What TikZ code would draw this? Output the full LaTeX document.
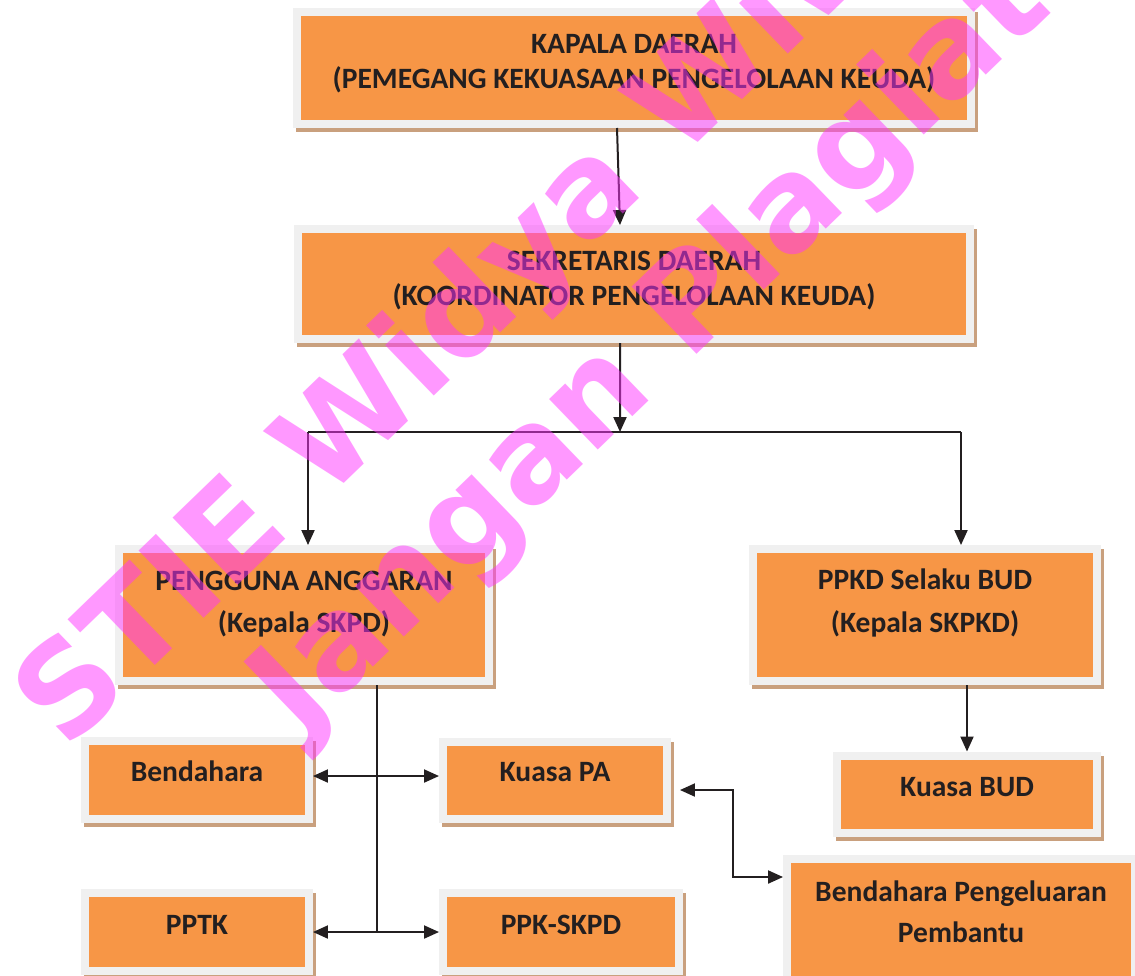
\documentclass[tikz,border=0pt]{standalone}
\usepackage{fontspec}
\setmainfont{Carlito}
\newfontfamily\markfont{DejaVu Sans}
\usetikzlibrary{arrows.meta,shadows}

\definecolor{boxorange}{HTML}{F79646}
\definecolor{boxframe}{HTML}{F0F0F0}
\definecolor{boxshade}{HTML}{C9A07E}
\definecolor{inkdark}{HTML}{231F20}
\definecolor{markpink}{rgb}{1,0.2,1}

\tikzset{
  orgbox/.style={draw=boxframe, line width=0.16cm, fill=boxorange, text=inkdark,
    font=\fontsize{16.8}{20}\selectfont\bfseries, align=center, inner sep=0pt,
    general shadow={fill=boxshade, draw=boxshade, line width=0.16cm,
      shadow xshift=0.06cm, shadow yshift=-0.08cm}},
  tallbox/.style={font=\fontsize{16.8}{24.2}\selectfont\bfseries},
  wire/.style={draw=inkdark, line width=0.04cm},
  link/.style={wire, -{Triangle[length=0.3cm,width=0.26cm]}},
  both/.style={wire, {Triangle[length=0.3cm,width=0.26cm]}-{Triangle[length=0.3cm,width=0.26cm]}},
  watermark/.style={font=\fontsize{73}{73}\selectfont\markfont\bfseries, text=markpink,
    text opacity=0.5, inner sep=0pt, rotate=44, anchor=base west}
}

\begin{document}
\begin{tikzpicture}[x=0.02cm, y=-0.02cm]
  \useasboundingbox (0,0) rectangle (1135,975);
  \clip (0,0) rectangle (1135,975);
  \fill[white] (0,0) rectangle (1135,975);

  % top of the chain
  \node[orgbox, minimum width=13.48cm, minimum height=2.24cm, text depth=0.26cm] (kada) at (634,68)
    {KAPALA DAERAH\\(PEMEGANG KEKUASAAN PENGELOLAAN KEUDA)};
  \node[orgbox, minimum width=13.46cm, minimum height=2.2cm, text depth=0.22cm] (sekda) at (634,284)
    {SEKRETARIS DAERAH\\(KOORDINATOR PENGELOLAAN KEUDA)};

  % second level
  \node[orgbox, tallbox, minimum width=7.4cm, minimum height=2.64cm, text depth=0.52cm] (pa) at (304,615)
    {PENGGUNA ANGGARAN\\(Kepala SKPD)};
  \node[orgbox, tallbox, minimum width=6.88cm, minimum height=2.64cm, text depth=0.58cm] (ppkd) at (925,615)
    {PPKD Selaku BUD\\(Kepala SKPKD)};

  % lower boxes
  \node[orgbox, minimum width=4.48cm, minimum height=1.56cm, text depth=0.34cm] (bend) at (197,780) {Bendahara};
  \node[orgbox, minimum width=4.48cm, minimum height=1.54cm, text depth=0.32cm] (kpa) at (555,780) {Kuasa PA};
  \node[orgbox, minimum width=4.48cm, minimum height=1.56cm, text depth=0.28cm] (pptk) at (197,932) {PPTK};
  \node[orgbox, minimum width=4.72cm, minimum height=1.56cm, text depth=0.28cm] (ppkskpd) at (561,932) {PPK-SKPD};
  \node[orgbox, minimum width=5.2cm, minimum height=1.54cm, text depth=0.28cm] (kbud) at (967,794) {Kuasa BUD};
  \node[orgbox, minimum width=6.96cm, minimum height=2.64cm, text depth=0.54cm,
    font=\fontsize{16.8}{23.2}\selectfont\bfseries] (bpp) at (961,925)
    {Bendahara Pengeluaran\\Pembantu};

  % connectors
  \coordinate (split) at (620,432);
  \coordinate (splitL) at (308,432);
  \coordinate (splitR) at (961,432);
  \coordinate (spine) at (377,932);
  \coordinate (knee) at (733,877);

  \draw[link] ([xshift=-0.34cm]kada.south) -- ([xshift=-0.28cm]sekda.north);
  \draw[link] ([xshift=-0.28cm]sekda.south) -- (split);
  \draw[wire] (splitL) -- (splitR);
  \draw[link] (splitL) -- (splitL |- pa.north);
  \draw[link] (splitR) -- (splitR |- ppkd.north);
  \draw[wire] (pa.south -| spine) -- (spine);
  \draw[both] ([yshift=0.08cm]bend.east) -- ([yshift=0.08cm]kpa.west);
  \draw[both] (pptk.east) -- (ppkskpd.west);
  \draw[link] (ppkd.south -| kbud.north) -- (kbud.north);
  \draw[both] ([xshift=0.18cm,yshift=-0.2cm]kpa.east) -| (knee) -- (knee -| bpp.west);

  % watermark
  \node[watermark] (markA) at (66,752) {STIE Widya Wiwaha};
  \node[watermark] (markB) at (300,738) {Jangan Plagiat};
\end{tikzpicture}
\end{document}
